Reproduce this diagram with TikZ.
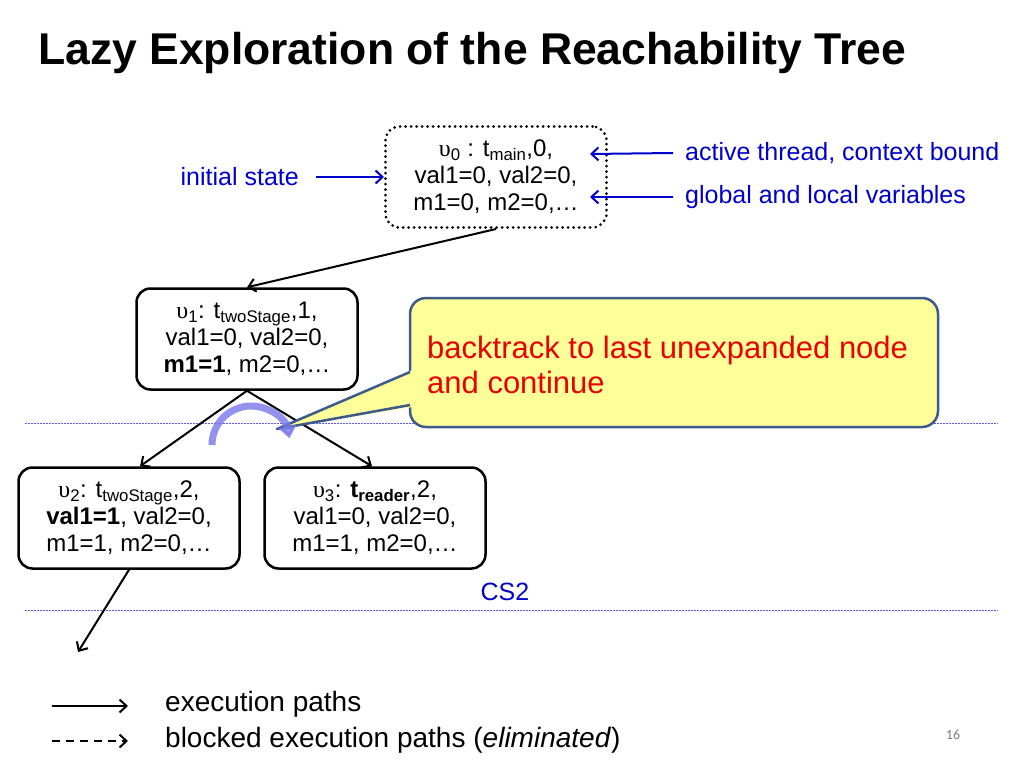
\documentclass[tikz,border=0pt]{standalone}
\usepackage{fontspec}
\setmainfont{Liberation Sans}
\newfontfamily\greekfont{Liberation Serif}
\newfontfamily\slidenumfont{Carlito}
\usetikzlibrary{arrows.meta}
\definecolor{labelblue}{RGB}{0,0,204}
\definecolor{notered}{RGB}{235,0,0}
\definecolor{noteyellow}{RGB}{255,255,153}
\definecolor{noteborder}{RGB}{60,90,140}
\definecolor{csline}{RGB}{90,90,230}
\definecolor{backarc}{RGB}{120,120,235}
\newcommand{\ups}[1]{{\greekfont υ}\textsubscript{#1}}
\newcommand{\lowsub}[1]{\textsubscript{#1}}
\begin{document}
\begin{tikzpicture}[x=1pt,y=-1pt,
	state/.style={draw, line width=2.5pt, rounded corners=14pt, align=center, inner sep=0pt,
		minimum width=221pt, minimum height=101pt, font=\fontsize{24}{27}\selectfont},
	initstate/.style={state, line cap=round, dash pattern=on 0pt off 5.5pt, line width=3pt},
	bluelabel/.style={text=labelblue, inner sep=0pt, font=\fontsize{25}{30}\selectfont},
	legendtext/.style={inner sep=0pt, anchor=west, font=\fontsize{28}{32}\selectfont},
	path/.style={line width=2pt, -{Straight Barb[length=7pt,width=13pt]}},
	bluepath/.style={path, draw=labelblue},
	csbound/.style={draw=csline, line width=0.9pt, dash pattern=on 1.5pt off 1.5pt},
	note/.style={fill=noteyellow, draw=noteborder, line width=2.5pt}]
\useasboundingbox (0,0) rectangle (1024,768);
\fill[white] (0,0) rectangle (1024,768);
% title
\node[anchor=base west, inner sep=0pt, font=\bfseries\fontsize{44.5}{50}\selectfont] (title) at (38,64) {Lazy Exploration of the Reachability Tree};
% context switch bounds
\draw[csbound] (25,423)--(998,423);
\draw[csbound] (25,610)--(998,610);
\node[bluelabel] (cs2) at (505,592) {CS2};
% states
\node[initstate] (v0) at (496,177) {\ups{0} : t\lowsub{main},0,\\val1=0, val2=0,\\m1=0, m2=0,…};
\node[state] (v1) at (247,339) {\ups{1}: t\lowsub{twoStage},1,\\val1=0, val2=0,\\\textbf{m1=1}, m2=0,…};
\node[state] (v2) at (129,518) {\ups{2}: t\lowsub{twoStage},2,\\\textbf{val1=1}, val2=0,\\m1=1, m2=0,…};
\node[state] (v3) at (375,518) {\ups{3}: \textbf{t\lowsub{reader}},2,\\val1=0, val2=0,\\m1=1, m2=0,…};
\coordinate (next) at (78,652);
\draw[path] (v0.south)--(v1.north);
\draw[path] (v1.south)--([xshift=11pt]v2.north);
\draw[path] (v1.south)--([xshift=-3pt]v3.north);
\draw[path] (v2.south)--(next);
% labels round the initial state
\node[bluelabel, anchor=east] (init) at (299,177) {initial state};
\node[bluelabel, anchor=west] (active) at (685,153) {active thread, context bound};
\node[bluelabel, anchor=west] (vars) at (685,197) {global and local variables};
\coordinate (threadtip) at (590,154);
\coordinate (varstip) at (590,197);
\draw[bluepath] ([xshift=17pt]init.east)--(v0.west);
\draw[bluepath] ([xshift=-12pt]active.west)--(threadtip);
\draw[bluepath] ([xshift=-12pt]vars.west |- varstip)--(varstip);
% backtracking
\draw[note, rounded corners=16pt] (410,298) rectangle (938,427);
\fill[noteyellow] (277,429) -- (412.5,370) -- (412.5,407) -- cycle;
\draw[noteborder, line width=2.5pt, line join=round] (410,372) -- (277,429) -- (410,405);
\node[anchor=west, align=left, inner sep=0pt, text=notered, font=\fontsize{31}{35}\selectfont] (note) at (427,365) {backtrack to last unexpanded node\\and continue};
\draw[backarc, opacity=0.8, line width=7pt, -{Triangle[length=12pt,width=18pt]}] (212,445) arc[start angle=180, end angle=350, radius=39];
% legend
\coordinate (legA) at (52,706);
\coordinate (legB) at (52,741);
\node[legendtext] (exec) at (165,704) {execution paths};
\node[legendtext] (blocked) at (165,740) {blocked execution paths (\textit{eliminated})};
\draw[path] (legA)--([xshift=-37pt]exec.west |- legA);
\draw[path, dash pattern=on 8pt off 6pt] (legB)--([xshift=-37pt]blocked.west |- legB);
\node[text=gray, inner sep=0pt, font=\slidenumfont\fontsize{14}{16}\selectfont] (pagenum) at (953,735) {16};
\end{tikzpicture}
\end{document}
